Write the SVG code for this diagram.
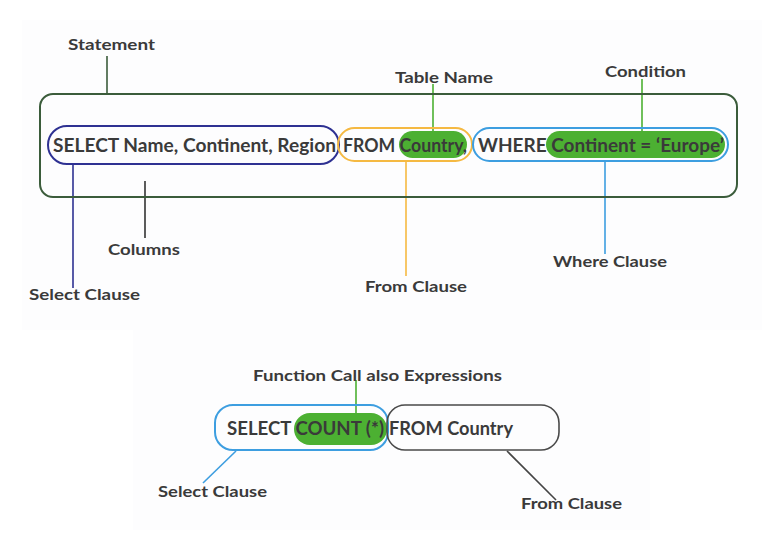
<svg xmlns="http://www.w3.org/2000/svg" width="778" height="539" viewBox="0 0 778 539">
<style>
text{font-family:Lato,"Open Sans","Liberation Sans",sans-serif;font-weight:700;fill:#3a3a3a}
.code{font-size:18px}
.lbl{font-size:16px}
.ln{fill:none;stroke-width:1.6}
.hl{fill:#4cb032}
</style>
<rect x="0" y="0" width="778" height="539" fill="#ffffff"/>
<rect x="22" y="20" width="740" height="310" fill="#fdfdfe"/>
<rect x="133" y="330" width="517" height="200" fill="#fdfdfe"/>
<g id="connectors">
<line class="ln" x1="107" y1="56" x2="107" y2="94" stroke="#3b5c3b"/>
<line class="ln" x1="73" y1="164" x2="73" y2="288" stroke="#2e3192"/>
<line class="ln" x1="145" y1="181" x2="145" y2="238" stroke="#333"/>
<line class="ln" x1="433" y1="84" x2="433" y2="131" stroke="#4cb032"/>
<line class="ln" x1="642" y1="79" x2="642" y2="131" stroke="#4cb032"/>
<line class="ln" x1="406" y1="161" x2="406" y2="276" stroke="#f5b942"/>
<line class="ln" x1="605" y1="161" x2="605" y2="254" stroke="#3d9ee0"/>
<line class="ln" x1="356" y1="380" x2="356" y2="413" stroke="#4cb032"/>
<line class="ln" x1="236" y1="451" x2="203" y2="483" stroke="#3d9ee0"/>
<line class="ln" x1="507" y1="451" x2="556" y2="500" stroke="#444"/>
</g>
<g id="statement">
<rect x="40" y="94" width="697" height="103" rx="13" fill="none" stroke="#3b5c3b" stroke-width="2"/>
<text class="lbl" x="68" y="50" textLength="87" lengthAdjust="spacingAndGlyphs">Statement</text>
</g>
<g id="select-clause">
<rect x="48" y="126" width="291" height="38" rx="19" fill="none" stroke="#2e3192" stroke-width="2"/>
<text class="code" x="53" y="152" textLength="283" lengthAdjust="spacingAndGlyphs">SELECT Name, Continent, Region</text>
</g>
<g id="from-clause">
<rect x="338" y="128" width="134" height="33" rx="16.5" fill="none" stroke="#f5b942" stroke-width="2"/>
<rect class="hl" x="399" y="131" width="68" height="27" rx="13.5"/>
<text class="code" x="343" y="152" textLength="124" lengthAdjust="spacingAndGlyphs">FROM Country,</text>
</g>
<g id="where-clause">
<rect x="473" y="128" width="255" height="33" rx="16.5" fill="none" stroke="#3d9ee0" stroke-width="2"/>
<rect class="hl" x="546" y="131" width="179" height="27" rx="13.5"/>
<text class="code" x="478" y="152" textLength="246" lengthAdjust="spacingAndGlyphs">WHERE Continent = ‘Europe’</text>
</g>
<g id="label-table-name"><text class="lbl" x="395" y="83" textLength="98" lengthAdjust="spacingAndGlyphs">Table Name</text></g>
<g id="label-condition"><text class="lbl" x="605" y="77" textLength="81" lengthAdjust="spacingAndGlyphs">Condition</text></g>
<g id="label-columns"><text class="lbl" x="108" y="255" textLength="72" lengthAdjust="spacingAndGlyphs">Columns</text></g>
<g id="label-select-clause"><text class="lbl" x="29" y="300" textLength="111" lengthAdjust="spacingAndGlyphs">Select Clause</text></g>
<g id="label-from-clause"><text class="lbl" x="365" y="292" textLength="102" lengthAdjust="spacingAndGlyphs">From Clause</text></g>
<g id="label-where-clause"><text class="lbl" x="553" y="267" textLength="114" lengthAdjust="spacingAndGlyphs">Where Clause</text></g>
<g id="select-count">
<rect x="215" y="405" width="173" height="45" rx="18" fill="none" stroke="#3d9ee0" stroke-width="2"/>
<rect class="hl" x="294" y="413" width="93" height="32" rx="16"/>
<text class="code" x="227" y="435" textLength="157" lengthAdjust="spacingAndGlyphs">SELECT COUNT (*)</text>
</g>
<g id="from-country">
<rect x="387" y="405" width="172" height="45" rx="18" fill="none" stroke="#4a4a4a" stroke-width="1.6"/>
<text class="code" x="389" y="435" textLength="124" lengthAdjust="spacingAndGlyphs">FROM Country</text>
</g>
<g id="label-function-call"><text class="lbl" x="253" y="381" textLength="249" lengthAdjust="spacingAndGlyphs">Function Call also Expressions</text></g>
<g id="label-select-clause-2"><text class="lbl" x="158" y="497" textLength="109" lengthAdjust="spacingAndGlyphs">Select Clause</text></g>
<g id="label-from-clause-2"><text class="lbl" x="521" y="509" textLength="101" lengthAdjust="spacingAndGlyphs">From Clause</text></g>
</svg>
